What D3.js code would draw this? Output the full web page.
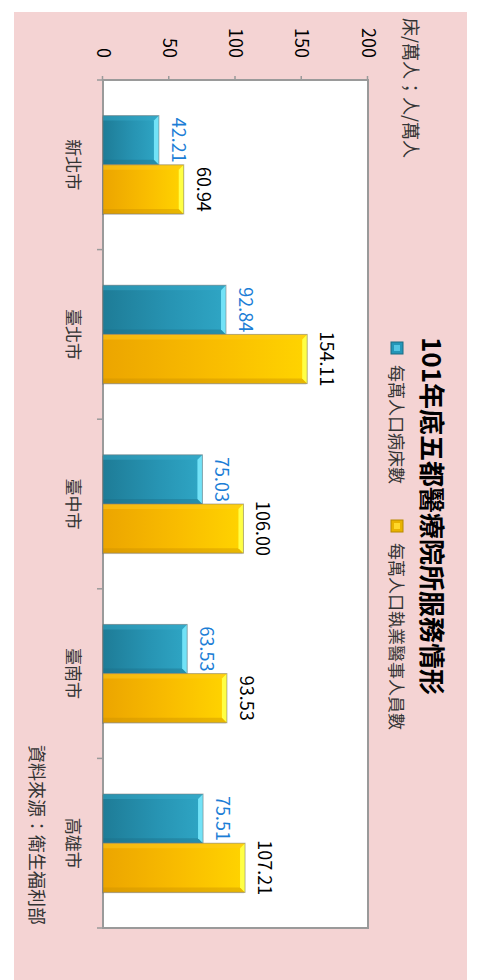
<!DOCTYPE html>
<html lang="zh-Hant">
<head>
<meta charset="utf-8">
<script src="https://d3js.org/d3.v7.min.js"></script>
<style>
  body { margin: 0; background: #fff; }
  text { font-family: "Noto Sans CJK TC", "Noto Sans", sans-serif; }
</style>
</head>
<body>
<svg id="chart" width="477" height="980"></svg>
<script>

// data
const cities = ["新北市", "臺北市", "臺中市", "臺南市", "高雄市"]
const seriesNames = ["每萬人口病床數", "每萬人口執業醫事人員數"]
const beds = [42.21, 92.84, 75.03, 63.53, 75.51]
const staff = [60.94, 154.11, 106.00, 93.53, 107.21]
const valueTicks = [0, 50, 100, 150, 200]

// chart is drawn upright (980 x 477) then turned a quarter clockwise
const W = 980, H = 477
const plot = {left: 80, right: 928, top: 109, bottom: 374}

const svg = d3.select("#chart")
const g = svg.append("g")
    .attr("transform", `translate(${H},0) rotate(90)`)

const defs = svg.append("defs")
function grad(id, stops) {
  const lg = defs.append("linearGradient")
    .attr("id", id)
    .attr("x1", 0).attr("y1", 1).attr("x2", 0).attr("y2", 0)
  stops.forEach(s => lg.append("stop").attr("offset", s[0]).attr("stop-color", s[1]))
}
grad("blueBody", [[0, "#1e7c97"], [0.55, "#2794b3"], [1, "#2fa6c5"]])
grad("yellowBody", [[0, "#eca500"], [0.55, "#f9bd00"], [1, "#ffd400"]])

const pal = [
  {body: "url(#blueBody)", end: "#72e2f7", lite: "#3aaccb", dark: "#1b6c84", label: "#1c7ed6"},
  {body: "url(#yellowBody)", end: "#ffff45", lite: "#ffcc22", dark: "#c98f00", label: "#000"}
]

// background panel
g.append("rect")
    .attr("x", 12).attr("y", 10)
    .attr("width", W - 12 + 5).attr("height", 453)
    .attr("fill", "#f4d3d3")

// plot area
g.append("rect")
    .attr("x", plot.left).attr("y", plot.top)
    .attr("width", plot.right - plot.left).attr("height", plot.bottom - plot.top)
    .attr("fill", "#fff")
    .attr("stroke", "#9a9a9a")
    .attr("stroke-width", 2)

// scales
const x = d3.scaleBand()
    .domain(cities)
    .range([plot.left, plot.right])
    .paddingInner(0.42)
    .paddingOuter(0.21)

const xs = d3.scaleBand()
    .domain([0, 1])
    .range([0, x.bandwidth()])

const y = d3.scaleLinear()
    .domain([0, 200])
    .range([plot.bottom, plot.top])

// value axis
const yAxis = g.append("g")
    .attr("transform", `translate(${plot.left},0)`)
    .call(d3.axisLeft(y).tickValues(valueTicks).tickSize(4).tickPadding(18))
yAxis.select(".domain").remove()
yAxis.selectAll("line").attr("stroke", "#9a9a9a").attr("stroke-width", 1.5)
yAxis.selectAll("text")
    .attr("font-size", 18)
    .attr("fill", "#000")
    .style("font-family", "'Noto Sans CJK TC', sans-serif")

// category axis
const xAxis = g.append("g")
    .attr("transform", `translate(0,${plot.bottom})`)
    .call(d3.axisBottom(x).tickSize(0).tickPadding(24))
xAxis.select(".domain").remove()
xAxis.selectAll("text")
    .attr("font-size", 17)
    .attr("fill", "#333")
    .style("font-family", "'Noto Sans CJK TC', sans-serif")

const bounds = d3.range(cities.length + 1).map(i => plot.left + i * x.step())
g.append("g").selectAll("line")
  .data(bounds)
  .join("line")
    .attr("x1", d => d).attr("x2", d => d)
    .attr("y1", plot.bottom).attr("y2", plot.bottom + 6)
    .attr("stroke", "#9a9a9a")
    .attr("stroke-width", 1.5)

// bars with a bevel look
const rows = []
cities.forEach((c, i) => {
  rows.push({city: c, s: 0, v: beds[i]})
  rows.push({city: c, s: 1, v: staff[i]})
})

const b = 5
const bar = g.append("g").selectAll("g")
  .data(rows)
  .join("g")
    .attr("transform", d => `translate(${x(d.city) + xs(d.s)},0)`)

const w = xs.bandwidth()
bar.append("rect")
    .attr("x", 1).attr("y", d => y(d.v) + 1)
    .attr("width", w).attr("height", d => plot.bottom - y(d.v))
    .attr("fill", "#000").attr("opacity", 0.1)
bar.append("rect")
    .attr("x", 0).attr("y", d => y(d.v))
    .attr("width", w).attr("height", d => plot.bottom - y(d.v))
    .attr("fill", d => pal[d.s].body)
bar.append("path")
    .attr("d", d => { const t = y(d.v); return `M0,${t}L${b},${t + b}L${b},${plot.bottom}L0,${plot.bottom}Z` })
    .attr("fill", d => pal[d.s].lite).attr("opacity", 0.45)
bar.append("path")
    .attr("d", d => { const t = y(d.v); return `M${w},${t}L${w - b},${t + b}L${w - b},${plot.bottom}L${w},${plot.bottom}Z` })
    .attr("fill", d => pal[d.s].dark).attr("opacity", 0.4)
bar.append("path")
    .attr("d", d => { const t = y(d.v); return `M0,${t}L${w},${t}L${w - b},${t + b}L${b},${t + b}Z` })
    .attr("fill", d => pal[d.s].end)
bar.append("rect")
    .attr("x", 0).attr("y", d => y(d.v))
    .attr("width", w).attr("height", d => plot.bottom - y(d.v))
    .attr("fill", "none")
    .attr("stroke", "#7a7a7a").attr("stroke-opacity", 0.55).attr("stroke-width", 1)

bar.append("text")
    .attr("x", w / 2)
    .attr("y", d => y(d.v) - 13)
    .attr("text-anchor", "middle")
    .attr("font-size", 18)
    .attr("fill", d => pal[d.s].label)
    .text(d => d.v.toFixed(2))

// title
g.append("text")
    .attr("x", 516).attr("y", 55)
    .attr("text-anchor", "middle")
    .attr("font-size", 26)
    .attr("font-weight", "bold")
    .text("101年底五都醫療院所服務情形")

// legend
const legendPos = [342, 520]
const lg = g.append("g").selectAll("g")
  .data(seriesNames)
  .join("g")
    .attr("transform", (d, i) => `translate(${legendPos[i]},74)`)
lg.append("rect")
    .attr("width", 12).attr("height", 12)
    .attr("fill", (d, i) => i ? "#e9b300" : "#2496b8")
    .attr("stroke", (d, i) => i ? "#b88a00" : "#1b6c84")
    .attr("stroke-width", 1)
lg.append("rect")
    .attr("x", 3).attr("y", 3).attr("width", 6).attr("height", 6)
    .attr("fill", (d, i) => i ? "#ffd82a" : "#52c4e2")
lg.append("text")
    .attr("x", 23).attr("y", 13)
    .attr("font-size", 17)
    .attr("fill", "#333")
    .text(d => d)

// unit and source
g.append("text")
    .attr("x", 18).attr("y", 73)
    .attr("font-size", 18)
    .attr("fill", "#333")
    .text("床/萬人；人/萬人")

g.append("text")
    .attr("x", 745).attr("y", 447)
    .attr("font-size", 18)
    .attr("fill", "#333")
    .text("資料來源：衛生福利部")

</script>
</body>
</html>
